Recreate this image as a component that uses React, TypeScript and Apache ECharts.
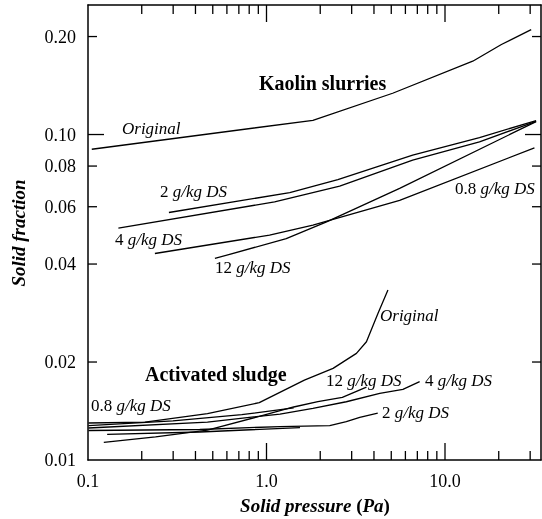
import React, { useEffect, useRef } from "react";
import * as echarts from "echarts";

const X_MIN = 0.1;
const X_MAX = 34.5;
const Y_MIN = 0.01;
const Y_MAX = 0.25;

// Kaolin slurries
const kaolinOriginal = [[0.105, 0.0901], [1.82, 0.1106], [5.09, 0.1339], [14.3, 0.168], [20.7, 0.189], [30.4, 0.21]];
const kaolin2 = [[0.284, 0.0576], [1.35, 0.0663], [2.51, 0.0727], [6.59, 0.0864], [15.6, 0.0979], [32.4, 0.1104]];
const kaolin4 = [[0.148, 0.0516], [1.11, 0.0621], [2.57, 0.0694], [6.59, 0.0834], [15.6, 0.0949], [32.4, 0.1098]];
const kaolin12 = [[0.514, 0.0416], [1.29, 0.0479], [2.17, 0.0539], [5.57, 0.0683], [32.4, 0.1096]];
const kaolin08 = [[0.237, 0.0431], [1.04, 0.0491], [1.82, 0.0527], [5.57, 0.0628], [31.7, 0.091]];

// Activated sludge
const sludgeOriginal = [[0.1006, 0.01299], [0.2085, 0.01308], [0.467, 0.01388], [0.911, 0.01501], [1.63, 0.0176], [2.36, 0.01912], [3.19, 0.02126], [3.63, 0.02308], [4.21, 0.0282], [4.79, 0.03327]];
const sludge08 = [[0.1006, 0.01276], [0.299, 0.01319], [0.727, 0.01378], [1.42, 0.01447]];
const sludge12 = [[0.1226, 0.01133], [0.239, 0.01177], [0.467, 0.01235], [0.911, 0.01362], [1.42, 0.01455], [1.94, 0.01512], [2.66, 0.01558], [3.63, 0.01675]];
const sludge4 = [[0.1006, 0.01254], [0.467, 0.01308], [1.19, 0.01384], [1.82, 0.01441], [2.8, 0.0151], [4.31, 0.01602], [5.81, 0.01648], [7.21, 0.0174]];
const sludge2 = [[0.1006, 0.01232], [0.423, 0.01241], [1.19, 0.01267], [2.26, 0.01276], [2.8, 0.01311], [3.33, 0.01352], [4.2, 0.01394]];
const sludgeExtra = [[0.128, 0.01199], [0.423, 0.01219], [1.54, 0.01258]];

// Ticks and tick labels
const xMinorTicks = [0.2, 0.3, 0.4, 0.5, 0.6, 0.7, 0.8, 0.9, 2, 3, 4, 5, 6, 7, 8, 9, 20, 30];
const xMajorTicks = [1, 10];
const yMinorTicks = [0.02, 0.04, 0.06, 0.08, 0.2];
const yMajorTicks = [0.1];
const xLabelValues = [0.1, 1, 10];
const xLabelTexts = ["0.1", "1.0", "10.0"];
const yLabelValues = [0.01, 0.02, 0.04, 0.06, 0.08, 0.1, 0.2];
const yLabelTexts = ["0.01", "0.02", "0.04", "0.06", "0.08", "0.10", "0.20"];

const F = "Liberation Serif";
const INK = "#000";

const lineSeries = (name: string, data: number[][]) => ({
  name,
  type: "line",
  data,
  showSymbol: false,
  symbol: "none",
  lineStyle: { color: INK, width: 1.3 },
  z: 3,
});

const dsLabel = (num: string, x: number, y: number) => ({
  type: "text",
  x,
  y,
  style: {
    text: `{n|${num} }{i|g/kg DS}`,
    fontFamily: F,
    fontSize: 17,
    fill: INK,
    verticalAlign: "middle",
    rich: { n: { fontFamily: F, fontSize: 17 }, i: { fontFamily: F, fontSize: 17, fontStyle: "italic" } },
  },
});

const italicLabel = (text: string, x: number, y: number) => ({
  type: "text",
  x,
  y,
  style: { text, fontFamily: F, fontSize: 17, fill: INK, fontStyle: "italic", verticalAlign: "middle" },
});

const boldLabel = (text: string, x: number, y: number) => ({
  type: "text",
  x,
  y,
  style: { text, fontFamily: F, fontSize: 20, fill: INK, fontWeight: "bold", verticalAlign: "middle" },
});

export default function App() {
  const ref = useRef<HTMLDivElement>(null);
  useEffect(() => {
    if (!ref.current) return;
    const chart = echarts.init(ref.current, undefined, { renderer: "svg" });
    const axisCommon = {
      type: "log",
      logBase: 10,
      axisTick: { show: false },
      axisLabel: { show: false },
      splitLine: { show: false },
      axisLine: { show: true, onZero: false, lineStyle: { color: INK, width: 1.5 } },
    };
    const tickStyle = { stroke: INK, lineWidth: 1.3 };
    const option = {
      animation: false,
      textStyle: { fontFamily: F },
      grid: { left: 88, right: 1, top: 5, bottom: 59 },
      xAxis: [
        { ...axisCommon, min: X_MIN, max: X_MAX, position: "bottom" },
        { ...axisCommon, min: X_MIN, max: X_MAX, position: "top" },
      ],
      yAxis: [
        { ...axisCommon, min: Y_MIN, max: Y_MAX, position: "left" },
        { ...axisCommon, min: Y_MIN, max: Y_MAX, position: "right" },
      ],
      series: [
        lineSeries("Kaolin Original", kaolinOriginal),
        lineSeries("Kaolin 2 g/kg DS", kaolin2),
        lineSeries("Kaolin 4 g/kg DS", kaolin4),
        lineSeries("Kaolin 12 g/kg DS", kaolin12),
        lineSeries("Kaolin 0.8 g/kg DS", kaolin08),
        lineSeries("Sludge Original", sludgeOriginal),
        lineSeries("Sludge 0.8 g/kg DS", sludge08),
        lineSeries("Sludge 12 g/kg DS", sludge12),
        lineSeries("Sludge 4 g/kg DS", sludge4),
        lineSeries("Sludge 2 g/kg DS", sludge2),
        lineSeries("Sludge extra", sludgeExtra),
        {
          type: "custom",
          clip: false,
          silent: true,
          data: [...xMinorTicks.map((v) => [v, Y_MIN, 9]), ...xMajorTicks.map((v) => [v, Y_MIN, 17])],
          renderItem: (params: any, api: any) => {
            const v = api.value(0);
            const len = api.value(2);
            const b = api.coord([v, Y_MIN]);
            const t = api.coord([v, Y_MAX]);
            return {
              type: "group",
              children: [
                { type: "line", shape: { x1: b[0], y1: b[1], x2: b[0], y2: b[1] - len }, style: tickStyle },
                { type: "line", shape: { x1: t[0], y1: t[1], x2: t[0], y2: t[1] + len }, style: tickStyle },
              ],
            };
          },
        },
        {
          type: "custom",
          clip: false,
          silent: true,
          data: [...yMinorTicks.map((v) => [X_MIN, v, 9]), ...yMajorTicks.map((v) => [X_MIN, v, 16])],
          renderItem: (params: any, api: any) => {
            const v = api.value(1);
            const len = api.value(2);
            const l = api.coord([X_MIN, v]);
            const r = api.coord([X_MAX, v]);
            return {
              type: "group",
              children: [
                { type: "line", shape: { x1: l[0], y1: l[1], x2: l[0] + len, y2: l[1] }, style: tickStyle },
                { type: "line", shape: { x1: r[0], y1: r[1], x2: r[0] - len, y2: r[1] }, style: tickStyle },
              ],
            };
          },
        },
        {
          type: "custom",
          clip: false,
          silent: true,
          data: xLabelValues.map((v) => [v, Y_MIN]),
          renderItem: (params: any, api: any) => {
            const p = api.coord([api.value(0), Y_MIN]);
            return {
              type: "text",
              x: p[0],
              y: p[1] + 21,
              style: { text: xLabelTexts[params.dataIndex], fontFamily: F, fontSize: 18, fill: INK, align: "center", verticalAlign: "middle" },
            };
          },
        },
        {
          type: "custom",
          clip: false,
          silent: true,
          data: yLabelValues.map((v) => [X_MIN, v]),
          renderItem: (params: any, api: any) => {
            const p = api.coord([X_MIN, api.value(1)]);
            return {
              type: "text",
              x: p[0] - 12,
              y: p[1],
              style: { text: yLabelTexts[params.dataIndex], fontFamily: F, fontSize: 18, fill: INK, align: "right", verticalAlign: "middle" },
            };
          },
        },
      ],
      graphic: [
        italicLabel("Original", 122, 128),
        boldLabel("Kaolin slurries", 259, 83),
        dsLabel("2", 160, 191),
        dsLabel("4", 115, 239),
        dsLabel("12", 215, 267),
        dsLabel("0.8", 455, 188),
        boldLabel("Activated sludge", 145, 374),
        dsLabel("0.8", 91, 405),
        italicLabel("Original", 380, 315),
        dsLabel("12", 326, 380),
        dsLabel("4", 425, 380),
        dsLabel("2", 382, 412),
        {
          type: "text",
          x: 315,
          y: 505,
          style: {
            text: "{bi|Solid pressure }{b|(}{bi|Pa}{b|)}",
            fontFamily: F,
            fontSize: 19,
            fill: INK,
            align: "center",
            verticalAlign: "middle",
            rich: {
              bi: { fontFamily: F, fontSize: 19, fontWeight: "bold", fontStyle: "italic" },
              b: { fontFamily: F, fontSize: 19, fontWeight: "bold" },
            },
          },
        },
        {
          type: "text",
          x: 18,
          y: 233,
          rotation: Math.PI / 2,
          style: { text: "Solid fraction", fontFamily: F, fontSize: 19, fill: INK, fontWeight: "bold", fontStyle: "italic", align: "center", verticalAlign: "middle" },
        },
      ],
    };
    chart.setOption(option as any);
    return () => chart.dispose();
  }, []);
  return <div ref={ref} style={{ position: "fixed", left: 0, top: 0, width: 542, height: 519 }} />;
}
